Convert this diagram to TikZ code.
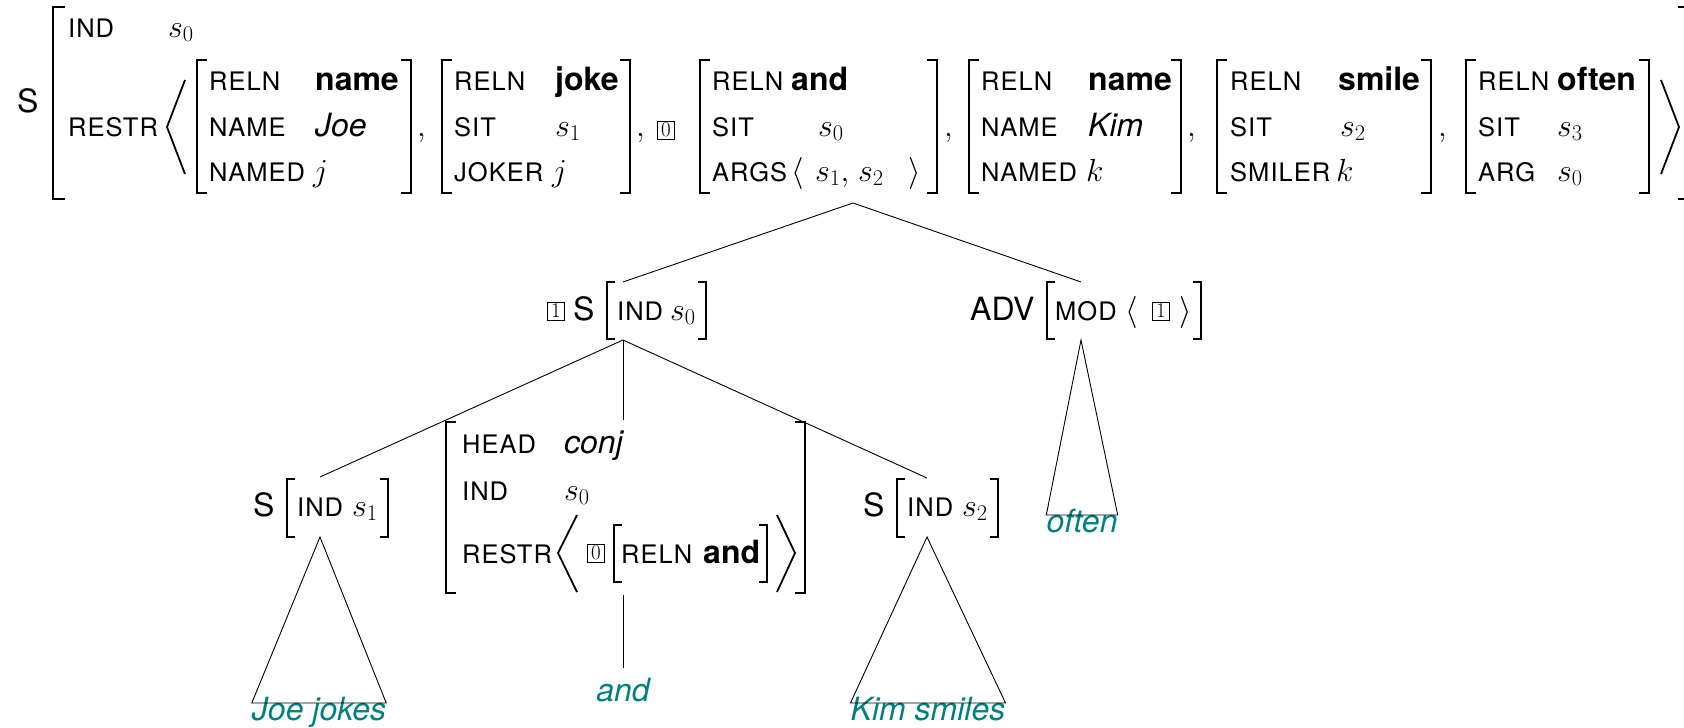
\RequirePackage{fix-cm}
\documentclass[tikz,border=0pt]{standalone}
\usepackage[no-math]{fontspec}
\setmainfont{TeX Gyre Heros}
\newfontfamily\featfam[LetterSpace=4]{TeX Gyre Heros}
\newfontfamily\tagfam{Latin Modern Roman}
\definecolor{leafteal}{RGB}{0,128,128}

\newcommand\catfont{\fontsize{32}{38}\selectfont}
\newcommand\featfont{\featfam\fontsize{25.5}{30}\selectfont}
\newcommand\valfont{\fontsize{32}{38}\selectfont}
\newcommand\tagfont{\tagfam\fontsize{21}{25}\selectfont}
\newcommand\leaffont{\fontsize{32}{38}\selectfont\itshape}

% one attribute-value row: name, label x, value x, baseline y, label, value
\newcommand\avmrow[6]{%
  \node[feat] (#1-f) at (#2,#4) {#5};
  \node[val]  (#1-v) at (#3,#4) {#6};}
% square brackets: [style]{x}{top}{bottom}{tick}
\newcommand\brL[5][brk]{\draw[#1] ({#2+#5},#3) -- (#2,#3) -- (#2,#4) -- ({#2+#5},#4);}
\newcommand\brR[5][brk]{\draw[#1] ({#2-#5},#3) -- (#2,#3) -- (#2,#4) -- ({#2-#5},#4);}

\tikzset{
  feat/.style={anchor=base west, inner sep=0pt, font=\featfont},
  val/.style={anchor=base west, inner sep=0pt, font=\valfont},
  cat/.style={anchor=base west, inner sep=0pt, font=\catfont},
  tagbox/.style={draw, line width=0.9pt, inner sep=0pt, minimum width=17pt,
                 minimum height=18pt, font=\tagfont},
  brk/.style={line width=2.3pt, line join=miter},
  sbrk/.style={line width=1.9pt, line join=miter},
  ang/.style={line width=1.8pt, line join=miter},
  edge/.style={line width=0.9pt},
  leaf/.style={inner sep=0pt, anchor=north, text height=17pt, font=\leaffont, text=leafteal},
}

\begin{document}
\begin{tikzpicture}[x=1pt, y=-1pt]
\fill[white] (0,0) rectangle (1684,728);
\useasboundingbox (0,0) rectangle (1684,728);

% ---------- root: S with IND and RESTR list ----------
\node[cat] (rootS) at (17,112) {S};
\brL{53}{7}{199}{12}
\brR{1690}{7}{199}{12}
\avmrow{rind}{68}{168}{37}{IND}{$s_0$}
\node[feat] (rrestr) at (68,136) {RESTR};
\draw[ang] (185,80) -- (167,127) -- (185,174);
\draw[ang] (1661,80) -- (1679,127) -- (1661,174);

% name(Joe)
\brL{197}{60}{193}{10} \brR{411}{60}{193}{10}
\avmrow{m1a}{209}{315}{90}{RELN}{\textbf{name}}
\avmrow{m1b}{209}{315}{136}{NAME}{\textit{Joe}}
\avmrow{m1c}{209}{313}{181}{NAMED}{$j$}
\node[val] (c1) at (417,136) {$,$};

% joke
\brL{442}{60}{193}{10} \brR{630}{60}{193}{10}
\avmrow{m2a}{454}{555}{90}{RELN}{\textbf{joke}}
\avmrow{m2b}{454}{555}{136}{SIT}{$s_1$}
\avmrow{m2c}{454}{552}{181}{JOKER}{$j$}
\node[val] (c2) at (636,136) {$,$};
\node[tagbox] (tag0a) at (666,130) {0};

% and
\brL{700}{60}{193}{10} \brR{937}{60}{193}{10}
\avmrow{m3a}{712}{791}{90}{RELN}{\textbf{and}}
\avmrow{m3b}{712}{818}{136}{SIT}{$s_0$}
\node[feat] (m3c-f) at (712,181) {ARGS};
\node[val] (m3c-l) at (791,181) {$\langle$};
\node[val] (m3c-a) at (815,181) {$s_1,$};
\node[val] (m3c-b) at (858,181) {$s_2$};
\node[val] (m3c-r) at (908,181) {$\rangle$};
\node[val] (c3) at (944,136) {$,$};

% name(Kim)
\brL{969}{60}{193}{10} \brR{1181}{60}{193}{10}
\avmrow{m4a}{981}{1088}{90}{RELN}{\textbf{name}}
\avmrow{m4b}{981}{1088}{136}{NAME}{\textit{Kim}}
\avmrow{m4c}{981}{1086}{181}{NAMED}{$k$}
\node[val] (c4) at (1187,136) {$,$};

% smile
\brL{1217}{60}{193}{10} \brR{1431}{60}{193}{10}
\avmrow{m5a}{1230}{1338}{90}{RELN}{\textbf{smile}}
\avmrow{m5b}{1230}{1340}{136}{SIT}{$s_2$}
\avmrow{m5c}{1230}{1336}{181}{SMILER}{$k$}
\node[val] (c5) at (1438,136) {$,$};

% often
\brL{1466}{60}{193}{10} \brR{1649}{60}{193}{10}
\avmrow{m6a}{1478}{1557}{90}{RELN}{\textbf{often}}
\avmrow{m6b}{1478}{1557}{136}{SIT}{$s_3$}
\avmrow{m6c}{1478}{1557}{181}{ARG}{$s_0$}

% ---------- second level ----------
\node[tagbox] (tag1a) at (556,311) {1};
\node[cat] (s0cat) at (573,320) {S};
\brL[sbrk]{607}{282}{339}{8} \brR[sbrk]{706}{282}{339}{8}
\avmrow{n1}{617}{670}{320}{IND}{$s_0$}

\node[cat] (advcat) at (970,320) {ADV};
\brL[sbrk]{1047}{282}{339}{8} \brR[sbrk]{1201}{282}{339}{8}
\node[feat] (mod) at (1055,320) {MOD};
\node[val] (modl) at (1125,320) {$\langle$};
\node[tagbox] (tag1b) at (1161,311) {1};
\node[val] (modr) at (1179,320) {$\rangle$};

% ---------- third level ----------
\node[cat] (s1cat) at (253,516) {S};
\brL[sbrk]{287}{479}{537}{8} \brR[sbrk]{388}{479}{537}{8}
\avmrow{n2}{297}{352}{516}{IND}{$s_1$}

\node[cat] (s2cat) at (863,516) {S};
\brL[sbrk]{897}{479}{537}{8} \brR[sbrk]{998}{479}{537}{8}
\avmrow{n3}{907}{962}{516}{IND}{$s_2$}

% conjunction entry
\brL{446}{422}{593}{10} \brR{805}{422}{593}{10}
\avmrow{h1}{462}{564}{453}{HEAD}{\textit{conj}}
\avmrow{h2}{462}{564}{500}{IND}{$s_0$}
\node[feat] (h3) at (462,563) {RESTR};
\draw[ang] (577,515) -- (558,553) -- (577,592);
\node[tagbox] (tag0b) at (596,553) {0};
\brL[sbrk]{614}{525}{582}{8} \brR[sbrk]{767}{525}{582}{8}
\avmrow{h4}{621}{703}{563}{RELN}{\textbf{and}}
\draw[ang] (777,515) -- (795,553) -- (777,592);

% ---------- attachment points of the tree ----------
\coordinate (root-b) at (853,203);
\coordinate (n1-t) at (623,282);  \coordinate (n1-b) at (623,340);
\coordinate (adv-t) at (1081,282); \coordinate (adv-b) at (1081,340);
\coordinate (n2-t) at (320,477);  \coordinate (n2-b) at (320,537);
\coordinate (h-t) at (623,420);   \coordinate (h-b) at (623,595);
\coordinate (n3-t) at (927,478);  \coordinate (n3-b) at (927,537);

% leaves
\node[leaf] (l1) at (319,703) {Joe jokes};
\node[leaf] (l2) at (623,684) {and};
\node[leaf] (l3) at (928,703) {Kim smiles};
\node[leaf] (l4) at (1082,515) {often};

% branches
\draw[edge] (root-b) -- (n1-t);
\draw[edge] (root-b) -- (adv-t);
\draw[edge] (n1-b) -- (n2-t);
\draw[edge] (n1-b) -- (h-t);
\draw[edge] (n1-b) -- (n3-t);
\draw[edge, shorten >=16pt] (h-b) -- (l2.north);
\draw[edge] (n2-b) -- (l1.north west) -- (l1.north east) -- cycle;
\draw[edge] (n3-b) -- (l3.north west) -- (l3.north east) -- cycle;
\draw[edge] (adv-b) -- (l4.north west) -- (l4.north east) -- cycle;
\end{tikzpicture}
\end{document}
